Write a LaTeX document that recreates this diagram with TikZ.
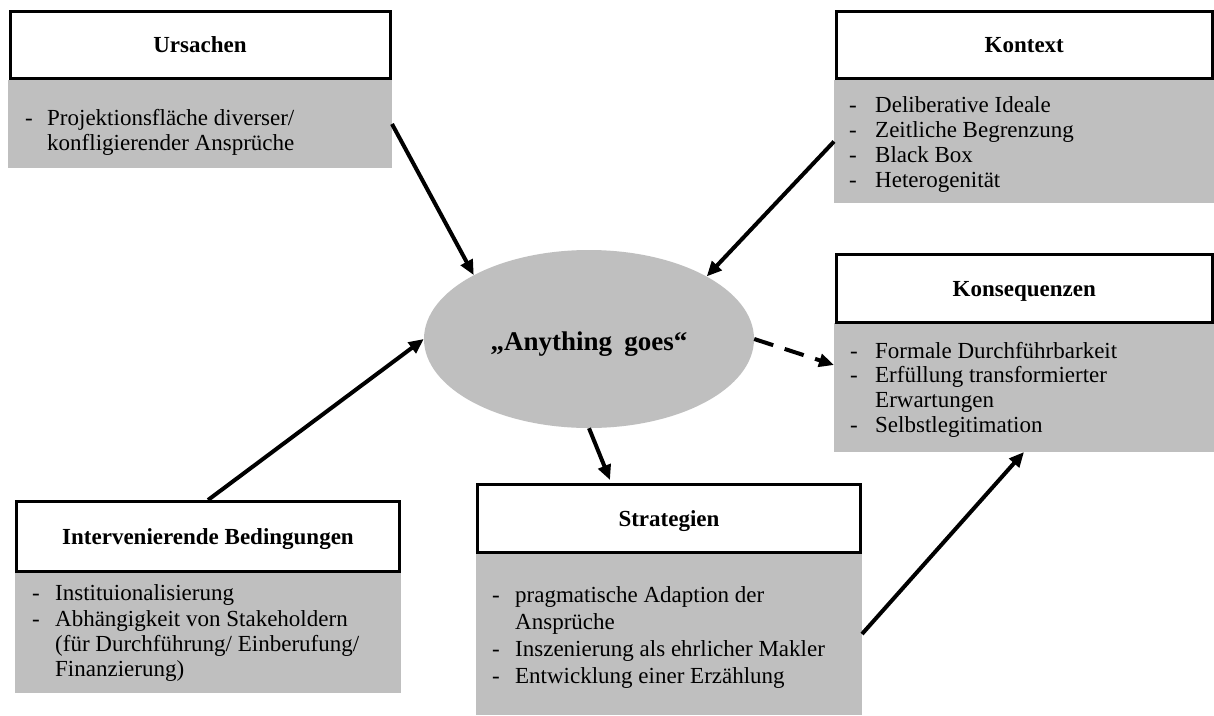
\documentclass[tikz,border=0pt]{standalone}
\usepackage{fontspec}
\setmainfont{Liberation Serif}
\usetikzlibrary{arrows.meta,shapes.geometric}
\definecolor{boxgray}{HTML}{BFBFBF}

% one list entry: a dash in a fixed-width slot, then the entry text
\newcommand\dashitem[2]{\makebox[#1][l]{-}#2}

\begin{document}
\begin{tikzpicture}[x=1pt,y=-1pt,
  head/.style={draw=black, line width=3pt, fill=white, inner sep=0pt,
    text height=16pt, text depth=0pt,
    font=\fontsize{23}{25}\selectfont\bfseries},
  body/.style={fill=boxgray, draw=none, inner sep=0pt, outer sep=0pt},
  items/.style={anchor=north west, inner sep=0pt, align=left},
  link/.style={line width=4pt, -{Triangle[length=15pt,width=13pt]}},
  dashlink/.style={link, dash pattern=on 20pt off 12pt},
]
\fill[white] (0,0) rectangle (1214,715);
\useasboundingbox (0,0) rectangle (1214,715);

% grey bodies
\node[body, minimum width=384pt, minimum height=88pt]  (urs-body) at (200,124) {};
\node[body, minimum width=380pt, minimum height=123pt] (ktx-body) at (1024,141.5) {};
\node[body, minimum width=380pt, minimum height=129pt] (kon-body) at (1024,387.5) {};
\node[body, minimum width=386pt, minimum height=121pt] (int-body) at (208,632.5) {};
\node[body, minimum width=386pt, minimum height=162pt] (str-body) at (669,634) {};

% title boxes
\node[head, minimum width=380pt, minimum height=67.5pt]   (urs-head) at (200,44.75) {Ursachen};
\node[head, minimum width=376.5pt, minimum height=67.5pt] (ktx-head) at (1024.25,44.75) {Kontext};
\node[head, minimum width=376.5pt, minimum height=67.5pt] (kon-head) at (1024.25,288.25) {Konsequenzen};
\node[head, minimum width=383pt, minimum height=69.5pt]   (int-head) at (208,536.25) {Intervenierende Bedingungen};
\node[head, minimum width=383pt, minimum height=67.5pt]   (str-head) at (669,518.25) {Strategien};

% lists
\node[items, font=\fontsize{23}{25}\selectfont] (urs-text) at (25,107) {%
  \rule{0pt}{18pt}\dashitem{22pt}{Projektionsfläche diverser/}\\
  \hspace*{22pt}konfligierender Ansprüche};
\node[items, font=\fontsize{23}{25}\selectfont] (ktx-text) at (849,94) {%
  \rule{0pt}{18pt}\dashitem{26pt}{Deliberative Ideale}\\
  \dashitem{26pt}{Zeitliche Begrenzung}\\
  \dashitem{26pt}{Black Box}\\
  \dashitem{26pt}{Heterogenität}};
\node[items, font=\fontsize{23}{24.7}\selectfont] (kon-text) at (850,340) {%
  \rule{0pt}{18pt}\dashitem{25pt}{Formale Durchführbarkeit}\\
  \dashitem{25pt}{Erfüllung transformierter}\\
  \hspace*{25pt}Erwartungen\\
  \dashitem{25pt}{Selbstlegitimation}};
\node[items, font=\fontsize{23}{25.3}\selectfont] (int-text) at (32,582.5) {%
  \rule{0pt}{18pt}\dashitem{23pt}{Instituionalisierung}\\
  \dashitem{23pt}{Abhängigkeit von Stakeholdern}\\
  \hspace*{23pt}(für Durchführung/ Einberufung/\\
  \hspace*{23pt}Finanzierung)};
\node[items, font=\fontsize{23}{27}\selectfont] (str-text) at (492,584) {%
  \rule{0pt}{18pt}\dashitem{23pt}{pragmatische Adaption der}\\
  \hspace*{23pt}Ansprüche\\
  \dashitem{23pt}{Inszenierung als ehrlicher Makler}\\
  \dashitem{23pt}{Entwicklung einer Erzählung}};

% central phenomenon
\node[ellipse, fill=boxgray, inner sep=0pt, minimum width=330pt, minimum height=178pt,
  text height=22pt, text depth=0pt, font=\fontsize{27}{30}\selectfont\bfseries]
  (ell) at (589,339) {„Anything\hspace{0.45em}goes“};

% connectors
\draw[link] (urs-body.east) -- (ell.151);
\draw[link] (ktx-body.west) -- (ell.28);
\draw[link] (int-head.north) -- (ell.west);
\draw[link] (ell.south) -- ([xshift=-59pt,yshift=3pt]str-head.north);
\draw[dashlink] (ell.east) -- ([yshift=-42pt]kon-body.north west);
\draw[link] (str-body.east) -- (kon-body.south);
\end{tikzpicture}
\end{document}
